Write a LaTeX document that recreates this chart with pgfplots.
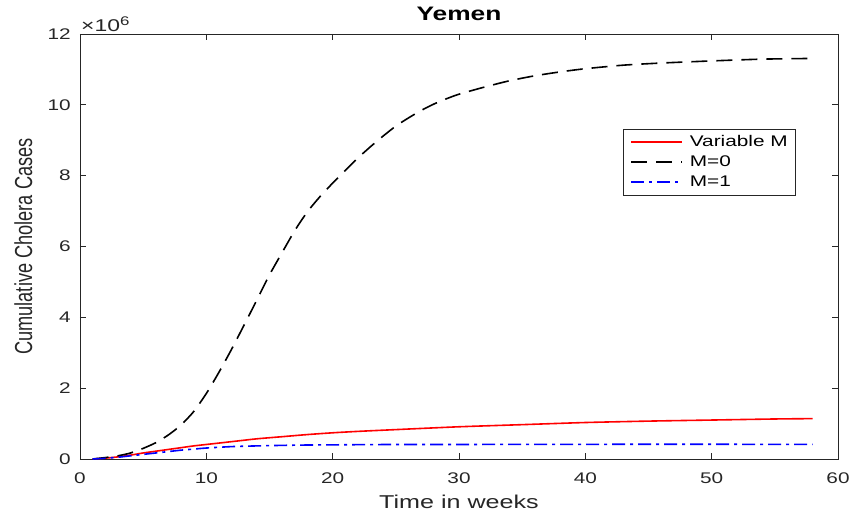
\documentclass[border=0pt]{standalone}
\usepackage{fontspec}
\setmainfont{Liberation Sans}[FakeStretch=1.35]
\newfontfamily\ylabfont{Liberation Sans}
\usepackage{pgfplots}
\pgfplotsset{compat=1.18}
\definecolor{axgray}{gray}{0.15}
\begin{document}
\begin{tikzpicture}
\begin{axis}[
 name=ax,
 scale only axis, width=758pt, height=425pt,
 xmin=0,xmax=60,ymin=0,ymax=12,
 xtick={0,10,...,60}, ytick={0,2,...,12},
 tick align=inside, major tick length=6pt, minor tick num=0,
 axis line style={axgray, line width=0.8pt},
 every tick/.style={axgray, line width=0.8pt},
 /pgf/number format/assume math mode=true,
 ticklabel style={font=\fontsize{15.4}{18}\selectfont, text=axgray},
 yticklabel style={inner sep=0pt, xshift=-9pt},
 xticklabel style={inner sep=0pt, yshift=-14pt, anchor=north},
 title={Yemen},
 title style={at={(rel axis cs:0.5,1)}, anchor=base, yshift=7pt, inner sep=0pt, font=\bfseries\fontsize{19.5}{22}\selectfont},
 xlabel={Time in weeks},
 xlabel style={at={(rel axis cs:0.5,0)}, anchor=north, yshift=-36pt, inner sep=0pt, font=\fontsize{18.6}{21}\selectfont, text=axgray},
 ylabel={\scalebox{1}[1.35]{\ylabfont\fontsize{18.2}{20}\selectfont Cumulative Cholera Cases}},
 ylabel style={at={(rel axis cs:-0.0633,0.5)}, anchor=base, inner sep=0pt, text=axgray},
 legend style={at={(rel axis cs:0.9446,0.7765)}, anchor=north east, draw=axgray, line width=0.6pt,
   font=\fontsize{15.4}{18}\selectfont, inner xsep=7pt, inner ysep=5.5pt, row sep=5pt, column sep=6pt,
   nodes={inner sep=1pt, text height=11pt, text depth=2pt}},
 legend cell align=left,
 legend image code/.code={\draw[#1] (0pt,0pt) -- (51pt,0pt);},
]
\addplot[red, line width=1.6pt, smooth, tension=0.4] coordinates {
(1,0) (2,0.025) (3,0.06) (4,0.11) (5,0.17) (6,0.22) (7,0.27) (8,0.32) (9,0.37) (10,0.41)
(12,0.49) (14,0.57) (16,0.63) (18,0.69) (20,0.74) (22,0.78) (25,0.83) (30,0.91) (35,0.97)
(40,1.03) (45,1.07) (50,1.10) (55,1.13) (58,1.14)};
\addlegendentry{Variable M}
\addplot[black, line width=1.6pt, dash pattern=on 16pt off 9pt, smooth, tension=0.4] coordinates {
(1,0) (2,0.04) (3,0.09) (4,0.17) (5,0.30) (6,0.46) (7,0.68) (8,0.96) (9,1.34) (10,1.85)
(11,2.45) (12,3.1) (13,3.79) (14,4.49) (15,5.2) (16,5.83) (17,6.45) (18,6.98) (19,7.41)
(20,7.79) (21,8.15) (22,8.5) (23,8.82) (24,9.12) (25,9.4) (26,9.63) (27,9.84) (28,10.02)
(29,10.17) (30,10.3) (32,10.5) (34,10.68) (36,10.82) (38,10.93) (40,11.02) (43,11.12)
(46,11.18) (50,11.24) (54,11.29) (58,11.31)};
\addlegendentry{M=0}
\addplot[blue, line width=1.6pt, dash pattern=on 13pt off 5pt on 3pt off 5pt, smooth, tension=0.4] coordinates {
(1,0) (2,0.02) (3,0.05) (4,0.09) (5,0.13) (6,0.17) (7,0.21) (8,0.25) (9,0.28) (10,0.31)
(12,0.35) (14,0.37) (16,0.385) (18,0.395) (20,0.40) (25,0.41) (30,0.41) (40,0.415) (58,0.415)};
\addlegendentry{M=1}
\end{axis}
\node[anchor=base west, inner sep=0pt, xshift=1pt, yshift=2pt, text=axgray] at (ax.north west) {\fontsize{17}{20}\selectfont ×10\raisebox{6.5pt}{\fontsize{12.5}{14}\selectfont 6}};
\pgfresetboundingbox
\path ([xshift=-80pt,yshift=-52pt]ax.south west) rectangle ([xshift=11pt,yshift=34pt]ax.north east);
\end{tikzpicture}
\end{document}
